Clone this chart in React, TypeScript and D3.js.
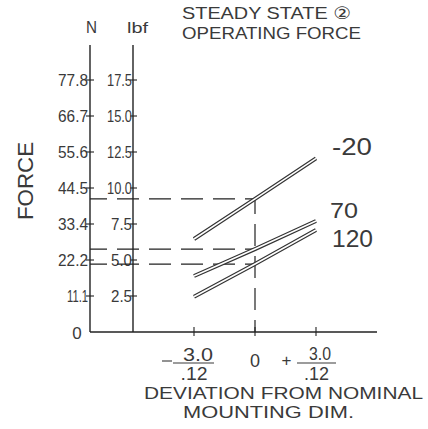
import React from "react";
import * as d3 from "d3";

// ---- data ----
const deviation = [-3, 0, 3]; // mm deviation from nominal mounting dim
const seriesNames = ["-20", "70", "120"];
const forceM20 = [6.46, 9.25, 12.06]; // lbf
const force70 = [3.89, 5.76, 7.71];
const force120 = [2.45, 4.72, 7.08];
const lbfTicks = [2.5, 5.0, 7.5, 10.0, 12.5, 15.0, 17.5];
const lbfTickLabels = ["2.5", "5.0", "7.5", "10.0", "12.5", "15.0", "17.5"];
const nTickLabels = ["11.1", "22.2", "33.4", "44.5", "55.6", "66.7", "77.8"];
const xTicks = [-3, 0, 3];

const W = 428;
const H = 429;
const FONT = "'Liberation Sans', 'DejaVu Sans', 'Noto Sans CJK SC', sans-serif";
const INK = "#222";
const TXT = "#3a3a3a";

const nLabelWidth = (s: string) => 30 - 3 * (s.split("1").length - 1);

export default function App() {
  const x = d3.scaleLinear().domain([-3, 3]).range([194, 316]);
  const y = d3.scaleLinear().domain([0, 17.5]).range([332, 80]);
  const nAxisX = 90;
  const lbfAxisX = 133;
  const axisTop = y(19.93);
  const axisRight = 377;

  const series = [forceM20, force70, force120];
  const line = d3
    .line<[number, number]>()
    .x((d) => x(d[0]))
    .y((d) => y(d[1]));

  const labelPos = [
    { x: 332, y: 155, size: 23, len: 40 },
    { x: 330, y: 218, size: 22, len: 28 },
    { x: 332, y: 247, size: 23, len: 41 },
  ];

  const zeroIdx = deviation.indexOf(0);

  return (
    <svg
      width={W}
      height={H}
      style={{ position: "absolute", left: 0, top: 0, background: "#fff" }}
      fontFamily={FONT}
    >
      <rect x={0} y={0} width={W} height={H} fill="#fff" />

      {/* title */}
      <text x={182} y={19} fontSize={17} fill={TXT} textLength={169} lengthAdjust="spacingAndGlyphs">
        STEADY STATE ②
      </text>
      <text x={182} y={39} fontSize={17} fill={TXT} textLength={179} lengthAdjust="spacingAndGlyphs">
        OPERATING FORCE
      </text>

      {/* unit headers */}
      <text x={86} y={33} fontSize={16} fill={TXT} textLength={11} lengthAdjust="spacingAndGlyphs">
        N
      </text>
      <text x={127} y={33} fontSize={15} fill={TXT} textLength={21} lengthAdjust="spacingAndGlyphs">
        lbf
      </text>

      {/* FORCE vertical label */}
      <text
        transform={`translate(33,181) rotate(-90)`}
        textAnchor="middle"
        fontSize={22}
        fill={TXT}
        textLength={78}
        lengthAdjust="spacingAndGlyphs"
      >
        FORCE
      </text>

      {/* axes */}
      <line x1={nAxisX} x2={nAxisX} y1={axisTop} y2={y(0)} stroke={INK} strokeWidth={1.4} />
      <line x1={lbfAxisX} x2={lbfAxisX} y1={axisTop} y2={y(0)} stroke={INK} strokeWidth={1.4} />
      <line x1={nAxisX} x2={axisRight} y1={y(0)} y2={y(0)} stroke={INK} strokeWidth={1.4} />

      {/* y ticks */}
      {lbfTicks.map((t, i) => (
        <g key={"yt" + i}>
          <line x1={nAxisX - 4} x2={nAxisX + 4} y1={y(t)} y2={y(t)} stroke={INK} strokeWidth={1.1} />
          <line x1={lbfAxisX - 3} x2={lbfAxisX + 4} y1={y(t)} y2={y(t)} stroke={INK} strokeWidth={1.1} />
          <text x={88} y={y(t) + 6} textAnchor="end" fontSize={17} fill={TXT} textLength={nLabelWidth(nTickLabels[i])} lengthAdjust="spacingAndGlyphs">
            {nTickLabels[i]}
          </text>
          <text x={132} y={y(t) + 6} textAnchor="end" fontSize={17} fill={TXT} textLength={lbfTickLabels[i].length > 3 ? 25 : 21} lengthAdjust="spacingAndGlyphs">
            {lbfTickLabels[i]}
          </text>
        </g>
      ))}
      <text x={77} y={339} textAnchor="middle" fontSize={17} fill={TXT}>
        0
      </text>

      {/* x ticks */}
      {xTicks.map((t, i) => (
        <line key={"xt" + i} x1={x(t)} x2={x(t)} y1={y(0) - 5} y2={y(0) + 4} stroke={INK} strokeWidth={1.1} />
      ))}

      {/* x tick labels */}
      <line x1={162} x2={172} y1={361} y2={361} stroke={TXT} strokeWidth={1.1} />
      <text x={198} y={361} textAnchor="middle" fontSize={18} fill={TXT} textLength={30} lengthAdjust="spacingAndGlyphs">3.0</text>
      <line x1={173} x2={214} y1={363} y2={363} stroke={TXT} strokeWidth={1.1} />
      <text x={194} y={380} textAnchor="middle" fontSize={19} fill={TXT} textLength={27} lengthAdjust="spacingAndGlyphs">.12</text>

      <text x={x(0)} y={367} textAnchor="middle" fontSize={18} fill={TXT}>0</text>

      <text x={286.5} y={366} textAnchor="middle" fontSize={17} fill={TXT}>+</text>
      <text x={320} y={360} textAnchor="middle" fontSize={18} fill={TXT} textLength={22} lengthAdjust="spacingAndGlyphs">3.0</text>
      <line x1={297} x2={336} y1={363} y2={363} stroke={TXT} strokeWidth={1.1} />
      <text x={316.5} y={380} textAnchor="middle" fontSize={19} fill={TXT} textLength={25} lengthAdjust="spacingAndGlyphs">.12</text>

      {/* x axis title */}
      <text x={144} y={399} fontSize={16} fill={TXT} textLength={279} lengthAdjust="spacingAndGlyphs">
        DEVIATION FROM NOMINAL
      </text>
      <text x={183} y={418} fontSize={16} fill={TXT} textLength={171} lengthAdjust="spacingAndGlyphs">
        MOUNTING DIM.
      </text>

      {/* dashed reference lines at nominal */}
      <line
        x1={x(0)}
        x2={x(0)}
        y1={y(0)}
        y2={y(series[0][zeroIdx])}
        stroke={INK}
        strokeWidth={1.2}
        strokeDasharray="22,10"
        strokeDashoffset={10}
      />
      {series.map((s, i) => (
        <line
          key={"hd" + i}
          x1={x(0)}
          x2={nAxisX}
          y1={y(s[zeroIdx])}
          y2={y(s[zeroIdx])}
          stroke={INK}
          strokeWidth={1.2}
          strokeDasharray="22,10"
          strokeDashoffset={12}
        />
      ))}

      {/* series lines (double-stroke) */}
      {series.map((s, i) => {
        const pts = deviation.map((d, j) => [d, s[j]] as [number, number]);
        const dPath = line(pts) || "";
        return (
          <g key={"s" + i}>
            <path d={dPath} fill="none" stroke="#333" strokeWidth={4} />
            <path d={dPath} fill="none" stroke="#fff" strokeWidth={1.6} />
          </g>
        );
      })}

      {/* series labels */}
      {seriesNames.map((n, i) => (
        <text
          key={"lab" + i}
          x={labelPos[i].x}
          y={labelPos[i].y}
          fontSize={labelPos[i].size}
          fill={TXT}
          textLength={labelPos[i].len}
          lengthAdjust="spacingAndGlyphs"
        >
          {n}
        </text>
      ))}
    </svg>
  );
}
